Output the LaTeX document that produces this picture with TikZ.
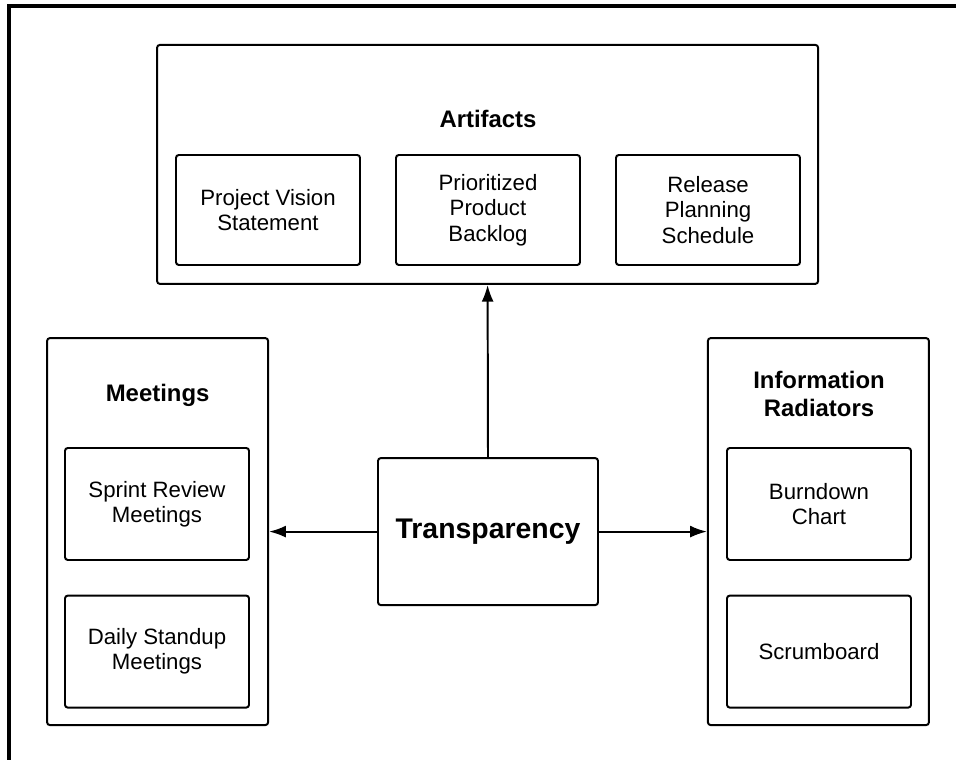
\documentclass[tikz,border=0pt]{standalone}
\usepackage{fontspec}
\setmainfont{Liberation Sans}
\usetikzlibrary{arrows.meta}

\begin{document}
\begin{tikzpicture}[
    group/.style={draw, line width=1.4pt, rounded corners=2pt, minimum width=#1},
    item/.style={draw, line width=1.4pt, rounded corners=2pt, minimum width=4.6cm, minimum height=2.75cm, align=center, font=\fontsize{15.8}{18}\selectfont},
    title/.style={align=center, font=\fontsize{17}{19.9}\selectfont\bfseries},
    link/.style={line width=1.4pt, -{Latex[length=4.2mm,width=3mm]}}
]
% Page size and the frame
\useasboundingbox (0, 0) rectangle (23.9, 19);
\draw[line width=2.85pt] (0.225, 0) -- (0.225, 18.85) -- (23.9, 18.85);

% Artifacts
\node[group=16.525cm, minimum height=5.975cm] (artifacts) at (12.19, 14.89) {};
\node[title] (artifactstitle) at (12.2, 16.025) {Artifacts};
\node[item] (vision) at (6.7, 13.75) {Project Vision\\Statement};
\node[item] (backlog) at (12.2, 13.75) {Prioritized\\Product\\Backlog};
\node[item] (release) at (17.7, 13.75) {Release\\Planning\\Schedule};

% Meetings
\node[group=5.525cm, minimum height=9.675cm] (meetings) at (3.94, 5.71) {};
\node[title] (meetingstitle) at (3.94, 9.125) {Meetings};
\node[item, minimum height=2.8cm] (review) at (3.925, 6.4) {Sprint Review\\Meetings};
\node[item, minimum height=2.8cm] (standup) at (3.925, 2.71) {Daily Standup\\Meetings};

% Information Radiators
\node[group=5.525cm, minimum height=9.675cm] (radiators) at (20.46, 5.71) {};
\node[title] (radiatorstitle) at (20.475, 9.15) {Information\\Radiators};
\node[item, minimum height=2.8cm] (burndown) at (20.475, 6.4) {Burndown\\Chart};
\node[item, minimum height=2.8cm] (scrumboard) at (20.475, 2.71) {Scrumboard};

% Transparency in the middle
\node[draw, line width=1.4pt, rounded corners=2pt, minimum width=5.5cm, minimum height=3.675cm, font=\fontsize{20.2}{24}\selectfont\bfseries] (transparency) at (12.2, 5.71) {Transparency};

\draw[link] (transparency.north) -- (artifacts.south);
\draw[link] (transparency.west) -- (meetings.east);
\draw[link] (transparency.east) -- (radiators.west);
\end{tikzpicture}
\end{document}
